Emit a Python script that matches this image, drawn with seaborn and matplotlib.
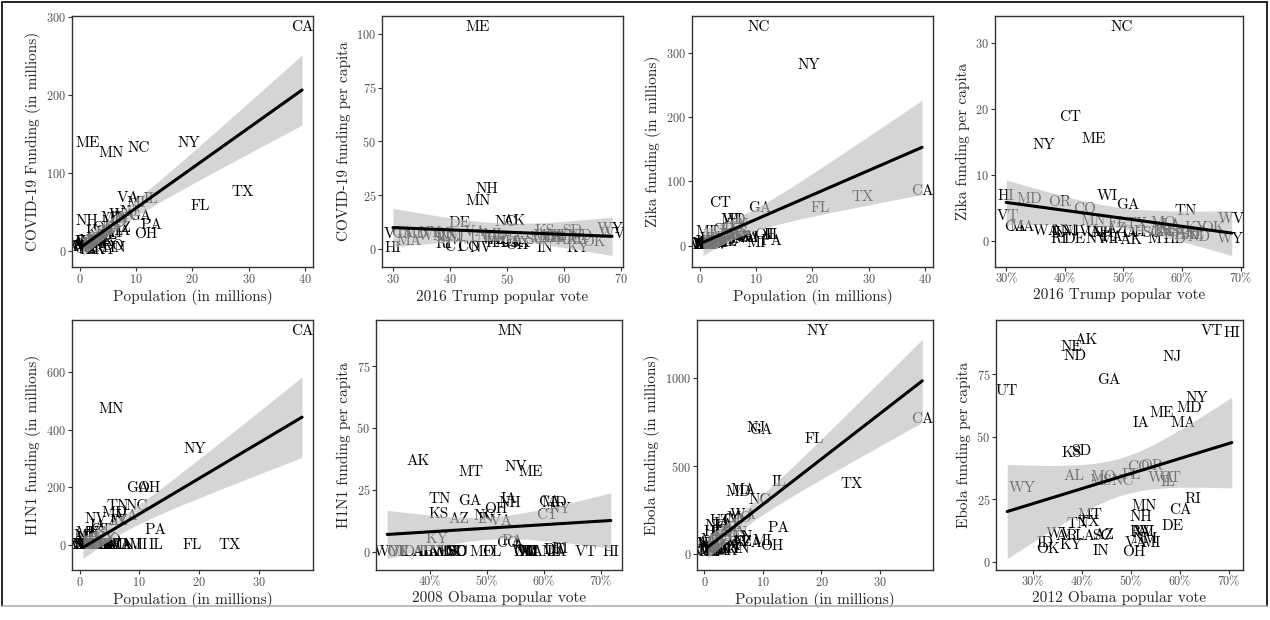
import numpy as np
import pandas as pd
import matplotlib
matplotlib.use('Agg')
import matplotlib.pyplot as plt
from matplotlib.lines import Line2D
from matplotlib.ticker import MultipleLocator, FuncFormatter
import seaborn as sns

# --- data ---
states = ['AL', 'AK', 'AZ', 'AR', 'CA', 'CO', 'CT', 'DE', 'FL', 'GA', 'HI', 'ID', 'IL', 'IN', 'IA',
          'KS', 'KY', 'LA', 'ME', 'MD', 'MA', 'MI', 'MN', 'MS', 'MO', 'MT', 'NE', 'NV', 'NH', 'NJ',
          'NM', 'NY', 'NC', 'ND', 'OH', 'OK', 'OR', 'PA', 'RI', 'SC', 'SD', 'TN', 'TX', 'UT', 'VT',
          'VA', 'WA', 'WV', 'WI', 'WY']

# population in millions
pop_2019 = [4.90, 0.73, 7.28, 3.02, 39.51, 5.76, 3.57, 0.97, 21.48, 10.62, 1.42, 1.79, 12.67, 6.73, 3.16,
            2.91, 4.47, 4.65, 1.34, 6.05, 6.89, 9.99, 5.64, 2.98, 6.14, 1.07, 1.93, 3.08, 1.36, 8.88,
            2.10, 19.45, 10.49, 0.76, 11.69, 3.96, 4.22, 12.80, 1.06, 5.15, 0.88, 6.83, 29.00, 3.21, 0.62,
            8.54, 7.61, 1.79, 5.82, 0.58]
pop_2010 = [4.78, 0.71, 6.39, 2.92, 37.25, 5.03, 3.57, 0.90, 18.80, 9.69, 1.36, 1.57, 12.83, 6.48, 3.05,
            2.85, 4.34, 4.53, 1.33, 5.77, 6.55, 9.88, 5.30, 2.97, 5.99, 0.99, 1.83, 2.70, 1.32, 8.79,
            2.06, 19.38, 9.54, 0.67, 11.54, 3.75, 3.83, 12.70, 1.05, 4.63, 0.81, 6.35, 25.15, 2.76, 0.63,
            8.00, 6.72, 1.85, 5.69, 0.56]

# popular vote shares (%)
trump_2016 = [62.1, 51.3, 48.7, 60.6, 31.6, 43.3, 40.9, 41.7, 49.0, 50.8, 30.0, 59.3, 38.8, 56.8, 51.1,
              56.7, 62.5, 58.1, 44.9, 33.9, 32.8, 47.5, 44.9, 57.9, 56.8, 56.2, 58.7, 45.5, 46.5, 41.0,
              40.0, 36.5, 49.8, 63.0, 51.7, 65.3, 39.1, 48.2, 38.9, 54.9, 61.5, 60.7, 52.2, 45.5, 30.3,
              44.4, 36.8, 68.5, 47.2, 68.2]
obama_2008 = [38.7, 37.9, 45.1, 38.9, 61.0, 53.7, 60.6, 61.9, 51.0, 47.0, 71.8, 36.1, 61.9, 49.9, 53.9,
              41.6, 41.2, 39.9, 57.7, 61.9, 61.8, 57.4, 54.1, 43.0, 49.3, 47.3, 41.6, 55.2, 54.1, 57.3,
              56.9, 62.9, 49.7, 44.6, 51.5, 34.4, 56.7, 54.5, 62.9, 44.9, 44.8, 41.8, 43.7, 34.4, 67.5,
              52.6, 57.7, 42.6, 56.2, 32.5]
obama_2012 = [38.4, 40.8, 44.6, 36.9, 60.2, 51.5, 58.1, 58.6, 50.0, 45.5, 70.6, 32.6, 57.6, 43.9, 52.0,
              38.0, 37.8, 40.6, 56.3, 62.0, 60.7, 54.2, 52.7, 43.8, 44.4, 41.7, 38.0, 52.4, 52.0, 58.4,
              53.0, 63.4, 48.4, 38.7, 50.7, 33.2, 54.2, 52.0, 62.7, 44.1, 39.9, 39.1, 41.4, 24.8, 66.6,
              51.2, 56.2, 35.5, 52.8, 27.8]

# funding in millions
covid_funding = [20, 9.3, 29, 12, 287, 6, 3.6, 11.6, 58, 45, 0.7, 9, 67, 3.4, 9.6,
                 24, 1.4, 23, 138, 42, 26, 62, 126, 15, 37, 5.4, 11.4, 1, 38, 50,
                 12.6, 139, 132, 4.6, 22, 12, 29, 33, 2.3, 20, 7.3, 41, 76, 16, 4.3,
                 68, 46, 12, 23, 5.2]
zika_funding = [4.9, 0.15, 13.1, 3.6, 85, 27.8, 67, 0.3, 58, 59, 9.7, 0.5, 16.5, 9.4, 3.8,
                4.4, 9, 11.5, 20.8, 39, 15.2, 4, 17, 4.2, 16.5, 0.3, 1.9, 0.9, 1.6, 12.5,
                3.2, 282, 340, 0.45, 16.4, 7.9, 24.8, 7.7, 0.3, 6.6, 0.8, 31.3, 76, 4.2, 2.4,
                11.9, 11.4, 5.9, 40, 0.17]
h1n1_funding = [0, 26, 84, 0, 740, 17.6, 52, 0.5, 0, 197, 0, 0, 0, 85, 65,
                43, 22, 0, 42.5, 113, 0, 0, 472, 0, 0, 32, 0, 92, 26, 0,
                0, 331, 136, 0, 197, 0, 0, 53, 1, 0, 0, 136, 0, 0, 0,
                100, 0, 0, 0, 0]
ebola_funding = [163, 63, 69, 30.7, 767, 191, 119, 13, 652, 703, 124, 12, 411, 28.5, 169,
                 124, 29, 47.6, 79, 355, 364, 74, 118, 96, 204, 18.6, 157, 32, 23.6, 718,
                 18.5, 1266, 308, 55, 46, 19, 146, 150, 26.5, 48.6, 36, 96.5, 400, 188, 58,
                 60, 224, 20.7, 68, 16.6]

df = pd.DataFrame({'state': states, 'pop_2019': pop_2019, 'pop_2010': pop_2010,
                   'trump_2016': trump_2016, 'obama_2008': obama_2008, 'obama_2012': obama_2012,
                   'covid': covid_funding, 'zika': zika_funding, 'h1n1': h1n1_funding,
                   'ebola': ebola_funding})
# per capita funding (dollars per person)
df['covid_pc'] = df['covid'] / df['pop_2019']
df['zika_pc'] = df['zika'] / df['pop_2019']
df['h1n1_pc'] = df['h1n1'] / df['pop_2010']
df['ebola_pc'] = df['ebola'] / df['pop_2010']

# x col, y col, x label, y label, x tick step, y tick step, percent axis
panels = [
    ('pop_2019', 'covid', 'Population (in millions)', 'COVID-19 Funding (in millions)', 10, 100, False),
    ('trump_2016', 'covid_pc', '2016 Trump popular vote', 'COVID-19 funding per capita', 10, 25, False),
    ('pop_2019', 'zika', 'Population (in millions)', 'Zika funding (in millions)', 10, 100, False),
    ('trump_2016', 'zika_pc', '2016 Trump popular vote', 'Zika funding per capita', 10, 10, True),
    ('pop_2010', 'h1n1', 'Population (in millions)', 'H1N1 funding (in millions)', 10, 200, False),
    ('obama_2008', 'h1n1_pc', '2008 Obama popular vote', 'H1N1 funding per capita', 10, 25, True),
    ('pop_2010', 'ebola', 'Population (in millions)', 'Ebola funding (in millions)', 10, 500, False),
    ('obama_2012', 'ebola_pc', '2012 Obama popular vote', 'Ebola funding per capita', 10, 25, True),
]

# panel boxes in pixels: left, top, right, bottom
boxes = [(72, 16, 313, 267), (382, 16, 623, 267), (692, 16, 933, 267), (995, 16, 1243, 267),
         (72, 320, 313, 570), (376, 320, 622, 570), (697, 320, 933, 570), (996, 320, 1243, 570)]

sns.set_style('white')
plt.rcParams['font.family'] = ['cmr10', 'DejaVu Serif']
plt.rcParams['mathtext.fontset'] = 'cm'
plt.rcParams['axes.formatter.use_mathtext'] = True
plt.rcParams['axes.unicode_minus'] = False

W, H = 1270, 620
fig = plt.figure(figsize=(W / 100, H / 100), dpi=100)

T_CRIT = 2.0106  # 97.5% t quantile, 48 df

for (l, t, r, b), (xc, yc, xl, yl, xs, ys, pct) in zip(boxes, panels):
    ax = fig.add_axes([l / W, 1 - b / H, (r - l) / W, (b - t) / H])
    x = df[xc].to_numpy(dtype=float)
    y = df[yc].to_numpy(dtype=float)

    # state labels sit underneath the confidence band
    for s, xi, yi in zip(df['state'], x, y):
        ax.text(xi, yi, s, ha='center', va='center', fontsize=11, color='black',
                zorder=1, clip_on=True)

    # linear fit confidence band (like geom_smooth(method='lm'))
    slope, icpt = np.polyfit(x, y, 1)
    grid = np.linspace(x.min(), x.max(), 80)
    fit = icpt + slope * grid
    resid = y - (icpt + slope * x)
    s2 = (resid ** 2).sum() / (len(x) - 2)
    se = np.sqrt(s2 * (1 / len(x) + (grid - x.mean()) ** 2 / ((x - x.mean()) ** 2).sum()))
    ax.fill_between(grid, fit - T_CRIT * se, fit + T_CRIT * se, color='#bcbcbc', alpha=0.62,
                    lw=0, zorder=2)

    sns.regplot(x=xc, y=yc, data=df, ax=ax, ci=None, color='black',
                scatter_kws={'s': 0}, line_kws={'lw': 2.2, 'zorder': 3})

    ax.margins(0.05)
    ax.xaxis.set_major_locator(MultipleLocator(xs))
    ax.yaxis.set_major_locator(MultipleLocator(ys))
    if pct:
        ax.xaxis.set_major_formatter(FuncFormatter(lambda v, _: f'{v:.0f}%'))
    ax.tick_params(bottom=True, left=True, direction='out', length=2.7, width=0.8,
                   color='#333333', labelsize=8.8, labelcolor='#4d4d4d', pad=1.5)
    for sp in ax.spines.values():
        sp.set_color('#333333')
        sp.set_linewidth(1.0)
    ax.set_xlabel(xl, fontsize=11, labelpad=2)
    ax.set_ylabel(yl, fontsize=11, labelpad=4)

# outer frame around the figure
fig.add_artist(Line2D([2 / W, 1267 / W], [1 - 2 / H, 1 - 2 / H], color='black', lw=1.2))
fig.add_artist(Line2D([2 / W, 2 / W], [1 - 2 / H, 1 - 606 / H], color='black', lw=1.2))
fig.add_artist(Line2D([1267 / W, 1267 / W], [1 - 2 / H, 1 - 606 / H], color='black', lw=1.2))
fig.add_artist(Line2D([2 / W, 1267 / W], [1 - 606 / H, 1 - 606 / H], color='#b0b0b0', lw=1.2))

fig.savefig('out.png', dpi=100)
